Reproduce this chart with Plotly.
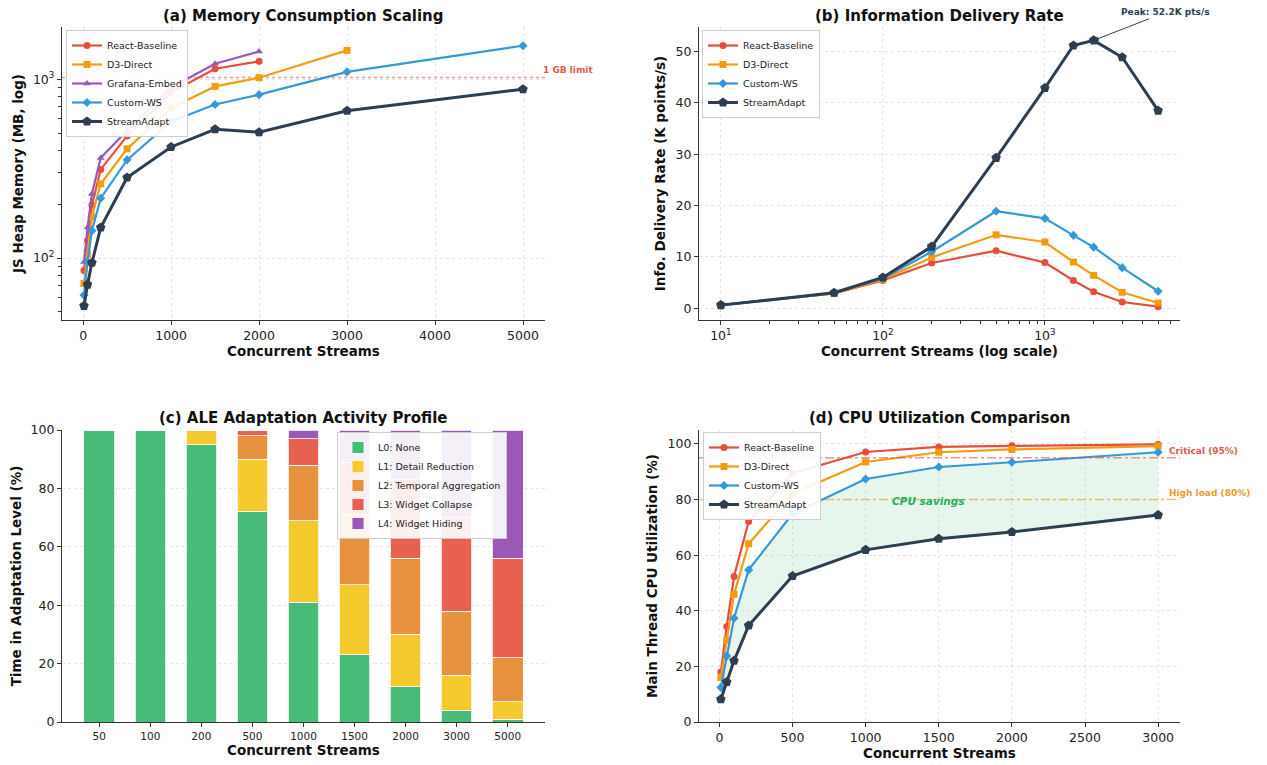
import plotly.graph_objects as go
import numpy as np

# ---------------- data ----------------
streams_a = [10, 50, 100, 200, 500, 1000, 1500, 2000, 3000, 5000]
mem_react = [85, 125, 198, 313, 482, 845, 1145, 1260]          # up to 2000
mem_d3 = [72, 105, 170, 260, 408, 690, 912, 1020, 1450]        # up to 3000
mem_grafana = [95, 148, 228, 363, 517, 900, 1220, 1430]        # up to 2000
mem_custom = [62, 95, 142, 216, 354, 580, 722, 820, 1100, 1540]
mem_stream = [54, 71, 94, 148, 282, 418, 525, 505, 667, 880]

streams_b = [10, 50, 100, 200, 500, 1000, 1500, 2000, 3000, 5000]
rate_react = [0.6, 2.9, 5.4, 8.8, 11.2, 8.9, 5.4, 3.2, 1.2, 0.3]
rate_d3 = [0.6, 2.9, 5.6, 9.9, 14.3, 12.9, 9.0, 6.4, 3.1, 1.0]
rate_custom = [0.6, 3.0, 5.8, 11.0, 18.9, 17.5, 14.2, 11.9, 7.9, 3.3]
rate_stream = [0.6, 3.0, 6.0, 12.0, 29.3, 42.9, 51.2, 52.2, 48.9, 38.5]

ale_cats = ["50", "100", "200", "500", "1000", "1500", "2000", "3000", "5000"]
ale_L0 = [100, 100, 95, 72, 41, 23, 12, 4, 1]
ale_L1 = [0, 0, 5, 18, 28, 24, 18, 12, 6]
ale_L2 = [0, 0, 0, 8, 19, 24, 26, 22, 15]
ale_L3 = [0, 0, 0, 2, 9, 18, 27, 32, 34]
ale_L4 = [0, 0, 0, 0, 3, 11, 17, 30, 44]
ale_names = ["L0: None", "L1: Detail Reduction", "L2: Temporal Aggregation",
             "L3: Widget Collapse", "L4: Widget Hiding"]

streams_d = [10, 50, 100, 200, 500, 1000, 1500, 2000, 3000]
cpu_react = [18.0, 34.3, 52.3, 72.1, 89.5, 97.1, 98.9, 99.3, 99.8]
cpu_d3 = [16.0, 29.4, 45.9, 64.1, 82.1, 93.5, 97.0, 98.0, 99.2]
cpu_custom = [12.4, 23.7, 37.3, 54.7, 74.9, 87.4, 91.7, 93.4, 97.0]
cpu_stream = [8.2, 14.4, 22.0, 34.7, 52.5, 61.9, 65.9, 68.3, 74.4]

critical_level = 95
high_level = 80
mem_limit = 1024

# ---------------- styles ----------------
C = {"React-Baseline": "#e74c3c", "D3-Direct": "#f39c12", "Grafana-Embed": "#9b59b6",
     "Custom-WS": "#3498db", "StreamAdapt": "#2c3e50"}
SYM = {"React-Baseline": "circle", "D3-Direct": "square", "Grafana-Embed": "triangle-up",
       "Custom-WS": "diamond", "StreamAdapt": "pentagon"}
ALE_COLORS = ["#48bb78", "#f4ca2f", "#e8913e", "#e8604f", "#9b59b6"]
FONT = "DejaVu Sans"

W, H = 1267, 765
OFF = 8  # page body margin offset
def px(x): return (x - OFF) / W
def py(y): return 1 - (y - OFF) / H

col1 = [px(62), px(545)]
col2 = [px(699), px(1180)]
row1 = [py(320), py(27)]
row2 = [py(722), py(430)]

fig = go.Figure()

def line_trace(x, y, name, xa, ya, legend, showlegend=True):
    big = name == "StreamAdapt"
    return go.Scatter(x=x, y=y, name=name, mode="lines+markers",
                      line=dict(color=C[name], width=3 if big else 2.2),
                      marker=dict(symbol=SYM[name], size=10 if big else 7, color=C[name]),
                      xaxis=xa, yaxis=ya, legend=legend, showlegend=showlegend)

# (a)
fig.add_trace(line_trace(streams_a[:len(mem_react)], mem_react, "React-Baseline", "x", "y", "legend"))
fig.add_trace(line_trace(streams_a[:len(mem_d3)], mem_d3, "D3-Direct", "x", "y", "legend"))
fig.add_trace(line_trace(streams_a[:len(mem_grafana)], mem_grafana, "Grafana-Embed", "x", "y", "legend"))
fig.add_trace(line_trace(streams_a, mem_custom, "Custom-WS", "x", "y", "legend"))
fig.add_trace(line_trace(streams_a, mem_stream, "StreamAdapt", "x", "y", "legend"))

# (b)
fig.add_trace(line_trace(streams_b, rate_react, "React-Baseline", "x2", "y2", "legend2"))
fig.add_trace(line_trace(streams_b, rate_d3, "D3-Direct", "x2", "y2", "legend2"))
fig.add_trace(line_trace(streams_b, rate_custom, "Custom-WS", "x2", "y2", "legend2"))
fig.add_trace(line_trace(streams_b, rate_stream, "StreamAdapt", "x2", "y2", "legend2"))

# (c)
for vals, nm, col in zip([ale_L0, ale_L1, ale_L2, ale_L3, ale_L4], ale_names, ALE_COLORS):
    fig.add_trace(go.Bar(x=list(range(len(ale_cats))), y=vals, name=nm, width=0.6,
                         marker=dict(color=col, line=dict(color="white", width=0.8)),
                         xaxis="x3", yaxis="y3", legend="legend3"))
fig.update_layout(barmode="stack", bargap=0.4)

# (d) fill between
fig.add_trace(go.Scatter(x=streams_d, y=cpu_custom, mode="lines", line=dict(width=0, color="rgba(0,0,0,0)"),
                         xaxis="x4", yaxis="y4", showlegend=False, hoverinfo="skip"))
fig.add_trace(go.Scatter(x=streams_d, y=cpu_stream, mode="lines", line=dict(width=0, color="rgba(0,0,0,0)"),
                         fill="tonexty", fillcolor="rgba(46,180,100,0.12)",
                         xaxis="x4", yaxis="y4", showlegend=False, hoverinfo="skip"))
fig.add_trace(line_trace(streams_d, cpu_react, "React-Baseline", "x4", "y4", "legend4"))
fig.add_trace(line_trace(streams_d, cpu_d3, "D3-Direct", "x4", "y4", "legend4"))
fig.add_trace(line_trace(streams_d, cpu_custom, "Custom-WS", "x4", "y4", "legend4"))
fig.add_trace(line_trace(streams_d, cpu_stream, "StreamAdapt", "x4", "y4", "legend4"))

# ---------------- axes ----------------
axis_common = dict(showline=True, linecolor="#333", linewidth=1.2, ticks="outside", ticklen=4,
                   tickcolor="#333", tickfont=dict(family=FONT, size=12.5, color="#222"),
                   gridcolor="rgba(0,0,0,0.10)", griddash="3px,3px", gridwidth=0.8, zeroline=False,
                   mirror=False, automargin=False)
title_font = dict(family=FONT, size=13.5, color="#111", weight="bold")

fig.update_layout(
    xaxis=dict(domain=col1, anchor="y", range=[-240, 5250], tickvals=[0, 1000, 2000, 3000, 4000, 5000],
               title=dict(text="Concurrent Streams", font=title_font, standoff=4), **axis_common),
    yaxis=dict(domain=row1, anchor="x", type="log", range=[np.log10(45), np.log10(1960)],
               tickvals=[100, 1000], ticktext=["10<sup>2</sup>", "10<sup>3</sup>"],
               minor=dict(tickvals=[50, 60, 70, 80, 90, 200, 300, 400, 500, 600, 700, 800, 900],
                          ticks="outside", ticklen=2.5, tickcolor="#333", showgrid=False),
               title=dict(text="JS Heap Memory (MB, log)", font=title_font, standoff=6), **axis_common),
    xaxis2=dict(domain=col2, anchor="y2", type="log", range=[0.865, 3.834],
                tickvals=[10, 100, 1000], ticktext=["10<sup>1</sup>", "10<sup>2</sup>", "10<sup>3</sup>"],
                minor=dict(tickvals=[20, 30, 40, 50, 60, 70, 80, 90, 200, 300, 400, 500, 600, 700, 800, 900,
                                     2000, 3000, 4000, 5000, 6000],
                           ticks="outside", ticklen=2.5, tickcolor="#333", showgrid=False),
                title=dict(text="Concurrent Streams (log scale)", font=title_font, standoff=4), **axis_common),
    yaxis2=dict(domain=row1, anchor="x2", range=[-2.3, 54.8], tickvals=[0, 10, 20, 30, 40, 50],
                title=dict(text="Info. Delivery Rate (K points/s)", font=title_font, standoff=6), **axis_common),
    xaxis3=dict(domain=col1, anchor="y3", range=[-0.73, 8.73], tickvals=list(range(len(ale_cats))),
                ticktext=ale_cats, showgrid=False,
                title=dict(text="Concurrent Streams", font=title_font, standoff=2),
                **{k: v for k, v in axis_common.items() if k not in ("tickfont",)},
                tickfont=dict(family=FONT, size=10.5, color="#222")),
    yaxis3=dict(domain=row2, anchor="x3", range=[0, 100], tickvals=[0, 20, 40, 60, 80, 100],
                title=dict(text="Time in Adaptation Level (%)", font=title_font, standoff=6), **axis_common),
    xaxis4=dict(domain=col2, anchor="y4", range=[-139.5, 3149.5], tickvals=[0, 500, 1000, 1500, 2000, 2500, 3000],
                title=dict(text="Concurrent Streams", font=title_font, standoff=4), **axis_common),
    yaxis4=dict(domain=row2, anchor="x4", range=[0, 105], tickvals=[0, 20, 40, 60, 80, 100],
                title=dict(text="Main Thread CPU Utilization (%)", font=title_font, standoff=6), **axis_common),
)

legend_common = dict(bgcolor="rgba(255,255,255,0.9)", bordercolor="#cccccc", borderwidth=1,
                     font=dict(family=FONT, size=9.5, color="#222"), xanchor="left", yanchor="top",
                     tracegroupgap=0, itemwidth=30, traceorder="normal")
fig.update_layout(
    legend=dict(x=px(66), y=py(30), **legend_common),
    legend2=dict(x=px(702), y=py(30), **legend_common),
    legend3=dict(x=px(507), y=py(432), **{**legend_common, "xanchor": "right"}),
    legend4=dict(x=px(703), y=py(432), **legend_common),
)

# reference lines
fig.add_shape(type="line", xref="x domain", yref="y", x0=0, x1=1, y0=mem_limit, y1=mem_limit,
              line=dict(color="rgba(231,76,60,0.55)", width=1.5, dash="dot"), layer="below")
fig.add_shape(type="line", xref="x4 domain", yref="y4", x0=0, x1=1, y0=critical_level, y1=critical_level,
              line=dict(color="rgba(231,76,60,0.6)", width=1.5, dash="dashdot"))
fig.add_shape(type="line", xref="x4 domain", yref="y4", x0=0, x1=1, y0=high_level, y1=high_level,
              line=dict(color="rgba(243,156,18,0.6)", width=1.5, dash="dashdot"))

ann_font = dict(family=FONT, size=9, weight="bold")
title_ann_font = dict(family=FONT, size=15, color="#111", weight="bold")
annotations = [
    dict(text="(a) Memory Consumption Scaling", x=(col1[0] + col1[1]) / 2, y=py(16), xref="paper", yref="paper",
         xanchor="center", yanchor="middle", showarrow=False, font=title_ann_font),
    dict(text="(b) Information Delivery Rate", x=(col2[0] + col2[1]) / 2, y=py(16), xref="paper", yref="paper",
         xanchor="center", yanchor="middle", showarrow=False, font=title_ann_font),
    dict(text="(c) ALE Adaptation Activity Profile", x=(col1[0] + col1[1]) / 2, y=py(418), xref="paper", yref="paper",
         xanchor="center", yanchor="middle", showarrow=False, font=title_ann_font),
    dict(text="(d) CPU Utilization Comparison", x=(col2[0] + col2[1]) / 2, y=py(418), xref="paper", yref="paper",
         xanchor="center", yanchor="middle", showarrow=False, font=title_ann_font),
    dict(text="1 GB limit", x=5200, y=np.log10(mem_limit), xref="x", yref="y", xanchor="left", yanchor="bottom",
         showarrow=False, font=dict(color="#e05a4c", **ann_font)),
    dict(text="Peak: 52.2K pts/s", x=np.log10(2000), y=52.2, xref="x2", yref="y2", ax=72, ay=-28,
         showarrow=True, arrowhead=2, arrowsize=1, arrowwidth=1, arrowcolor="#2c3e50",
         font=dict(color="#2c3e50", **ann_font)),
    dict(text="Critical (95%)", x=3060, y=critical_level + 2.5, xref="x4", yref="y4", xanchor="left",
         showarrow=False, font=dict(color="#e05a4c", **ann_font)),
    dict(text="High load (80%)", x=3060, y=high_level + 2.5, xref="x4", yref="y4", xanchor="left",
         showarrow=False, font=dict(color="#ef9a2a", **ann_font)),
    dict(text="<i>CPU savings</i>", x=1430, y=79.3, xref="x4", yref="y4",
         showarrow=False, font=dict(color="#27ae60", family=FONT, size=10.5, weight="bold")),
]
fig.update_layout(annotations=annotations)

fig.update_layout(width=W, height=H, margin=dict(l=0, r=0, t=0, b=0),
                  plot_bgcolor="white", paper_bgcolor="white", font=dict(family=FONT))

fig.write_html("out.html")
